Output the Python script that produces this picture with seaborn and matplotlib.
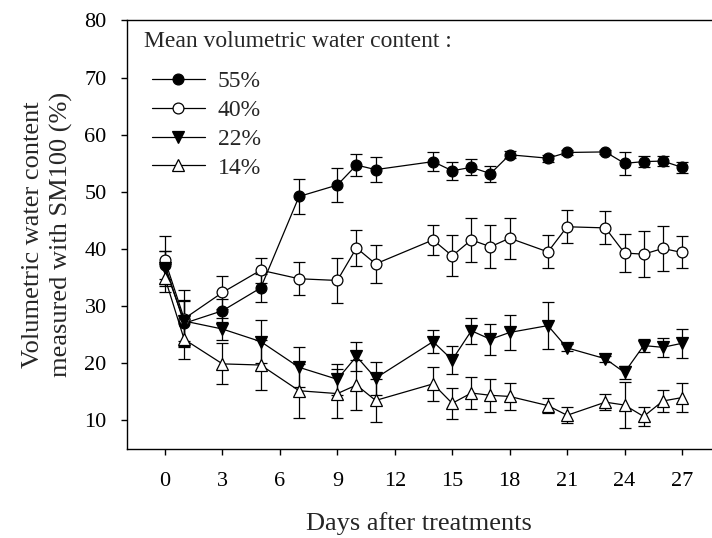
import matplotlib
matplotlib.use("Agg")
import matplotlib.pyplot as plt
import seaborn as sns
import pandas as pd

days = [0, 1, 3, 5, 7, 9, 10, 11, 14, 15, 16, 17, 18, 20, 21, 23, 24, 25, 26, 27]
vwc55 = [37.2, 27.0, 29.2, 33.2, 49.2, 51.2, 54.7, 53.9, 55.3, 53.7, 54.3, 53.2, 56.5, 55.9, 56.9, 57.0, 55.0, 55.3, 55.4, 54.3]
err55 = [2.5, 4.0, 2.0, 2.5, 3.0, 2.9, 2.0, 2.2, 1.6, 1.6, 1.4, 1.4, 0.6, 0.6, 0.5, 0.4, 2.0, 0.9, 0.9, 1.0]
vwc40 = [38.0, 27.8, 32.4, 36.3, 34.8, 34.5, 40.2, 37.4, 41.6, 38.8, 41.6, 40.4, 41.9, 39.5, 43.9, 43.7, 39.3, 39.1, 40.1, 39.4]
err40 = [4.2, 5.0, 2.9, 2.2, 2.9, 3.9, 3.2, 3.3, 2.6, 3.6, 3.9, 3.8, 3.6, 2.9, 2.9, 2.9, 3.3, 4.0, 3.9, 2.8]
vwc22 = [36.6, 27.4, 26.0, 23.8, 19.3, 17.2, 21.2, 17.4, 23.8, 20.6, 25.7, 24.2, 25.4, 26.6, 22.7, 20.8, 18.4, 23.1, 22.8, 23.5]
err22 = [3.0, 3.5, 2.0, 3.8, 3.5, 2.7, 2.6, 2.9, 2.0, 2.5, 2.3, 2.7, 3.1, 4.1, 0.6, 0.5, 1.1, 1.2, 1.7, 2.5]
vwc14 = [34.9, 24.2, 19.9, 19.7, 15.2, 14.7, 16.2, 13.5, 16.4, 13.0, 14.8, 14.4, 14.2, 12.6, 10.9, 13.2, 12.7, 10.7, 13.4, 14.0]
err14 = [2.5, 3.5, 3.6, 4.4, 4.7, 4.3, 4.4, 3.7, 3.0, 2.7, 2.8, 2.9, 2.3, 1.3, 1.4, 1.4, 4.1, 1.7, 1.9, 2.5]

labels = ["55%", "40%", "22%", "14%"]
series = [vwc55, vwc40, vwc22, vwc14]
errors = [err55, err40, err22, err14]
markers = ["o", "o", "v", "^"]
faces = ["black", "white", "black", "white"]
xticks = [0, 3, 6, 9, 12, 15, 18, 21, 24, 27]
yticks = [10, 20, 30, 40, 50, 60, 70, 80]
legend_title = "Mean volumetric water content :"

sns.set_style("ticks")
plt.rcParams["font.family"] = ["Liberation Serif", "DejaVu Serif"]

fig = plt.figure(figsize=(7.12, 5.38), dpi=100)
ax = fig.add_axes([0.178, 0.1654, 0.822, 0.7965])

for i, (lab, vals, errs) in enumerate(zip(labels, series, errors)):
    df = pd.DataFrame({"day": days, "vwc": vals})
    ax.errorbar(days, vals, yerr=errs, fmt="none", ecolor="black",
                elinewidth=0.9, capsize=4.6, capthick=0.9, zorder=2)
    sns.lineplot(data=df, x="day", y="vwc", ax=ax, color="black", linewidth=0.9,
                 marker=markers[i], markersize=7.8 if markers[i] == "o" else 8.5,
                 markerfacecolor=faces[i], markeredgecolor="black",
                 markeredgewidth=0.9, label=lab, zorder=3 + i)

ax.set_xlim(-2, 28.57)
ax.set_ylim(5, 80)
ax.set_xticks(xticks)
ax.set_yticks(yticks)
ax.tick_params(axis="both", labelsize=16, length=4.5, width=1.0, direction="out",
               colors="black", pad=10)
ax.tick_params(axis="x", pad=12)
ax.set_xlabel("Days after treatments", fontsize=19, labelpad=15)
ax.set_ylabel("Volumetric water content\nmeasured with SM100 (%)", fontsize=19,
              labelpad=8, linespacing=1.35)
for s in ["left", "bottom", "top"]:
    ax.spines[s].set_visible(True)
    ax.spines[s].set_linewidth(1.0)
    ax.spines[s].set_color("black")
ax.spines["right"].set_visible(False)

ax.text(0.0296, 0.951, legend_title, transform=ax.transAxes, fontsize=17,
        ha="left", va="center")
leg = ax.legend(loc="upper left", frameon=False, fontsize=17,
                handlelength=2.25, handletextpad=0.54, labelspacing=0.31,
                borderaxespad=0.0, borderpad=0.0, bbox_to_anchor=(0.0427, 0.883))

fig.savefig("out.png", dpi=100)
